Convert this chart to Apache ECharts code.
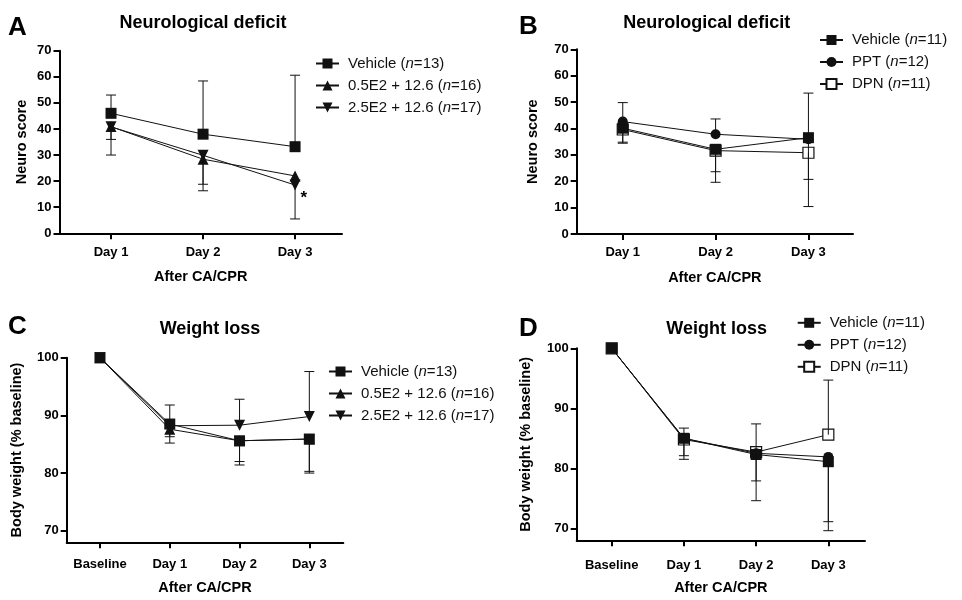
<!DOCTYPE html>
<html>
<head>
<meta charset="utf-8">
<script src="https://cdn.jsdelivr.net/npm/echarts@6/dist/echarts.min.js"></script>
<style>
html, body { margin: 0; background: #fff; }
#chart { width: 962px; height: 600px; }
</style>
</head>
<body>
<div id="chart"></div>
<script>
// categories / ticks
const neuroDays = ['Day 1', 'Day 2', 'Day 3'];
const weightDays = ['Baseline', 'Day 1', 'Day 2', 'Day 3'];
const weightTicks = [70, 80, 90, 100];

// A - neuro score, E2 + 12.6
const aVehicle = [46, 38, 33.2];
const aVehicleUp = [53, 58.4, 60.6];
const aLow = [40.9, 28.4, 22];
const aLowDown = [36, 18.8, null];
const aHigh = [40.8, 29.9, 18.5];
const aHighDown = [30, 16.3, 5.5];

// B - neuro score, PPT / DPN
const bVehicle = [40.1, 32.1, 36.5];
const bVehicleUp = [null, null, 53.4];
const bVehicleDown = [34.4, 23.6, null];
const bPPT = [42.6, 37.8, 35.9];
const bPPTUp = [49.8, 43.6, null];
const bPPTDown = [null, null, 20.7];
const bDPN = [39.6, 31.6, 30.8];
const bDPNDown = [34.8, 19.6, 10.4];

// C - body weight, E2 + 12.6
const cVehicle = [100, 88.5, 85.6, 85.9];
const cVehicleUp = [null, 91.8, null, null];
const cVehicleDown = [null, null, 82.0, 80.3];
const cLow = [100, 87.6, 85.6, 85.9];
const cLowDown = [null, 85.2, 81.4, 80.0];
const cHigh = [100, 88.2, 88.3, 89.8];
const cHighUp = [null, null, 92.8, 97.6];
const cHighDown = [null, 86.3, null, null];

// D - body weight, PPT / DPN
const dVehicle = [100, 85, 82.3, 81.1];
const dVehicleUp = [null, 86.7, null, null];
const dVehicleDown = [null, null, 77.9, 69.6];
const dPPT = [100, 85, 82.5, 81.9];
const dPPTDown = [null, 82.1, 74.6, 71.1];
const dDPN = [100, 84.8, 82.7, 85.6];
const dDPNUp = [null, null, 87.4, 94.7];
const dDPNDown = [null, 81.5, null, null];

const FONT = '"Liberation Sans", Arial, Helvetica, sans-serif';
const INK = '#111';

const grids = [
    {left: 59.5, top: 50.7, width: 282.5, height: 182.6},
    {left: 576.7, top: 49.3, width: 276.3, height: 184.7},
    {left: 66.7, top: 357.7, width: 276.6, height: 184.6},
    {left: 576.7, top: 348.3, width: 288.3, height: 192}
];

// x = index + start (A/B start at Day 1 = 1, C/D at Baseline = 0)
const panels = [
    {labels: neuroDays, start: 1, xMin: 0.44, xMax: 3.51, labelMargin: 13, nameGap: 36,
        yName: 'Neuro score', yGap: 30, yMin: 0, yMax: 70, yInterval: 10},
    {labels: neuroDays, start: 1, xMin: 0.504, xMax: 3.48, labelMargin: 12, nameGap: 36,
        yName: 'Neuro score', yGap: 36, yMin: 0, yMax: 70, yInterval: 10},
    {labels: weightDays, start: 0, xMin: -0.477, xMax: 3.487, labelMargin: 16, nameGap: 38,
        yName: 'Body weight (% baseline)', yGap: 42, yMin: 68, yMax: 100, yTicks: weightTicks},
    {labels: weightDays, start: 0, xMin: -0.485, xMax: 3.508, labelMargin: 19, nameGap: 40,
        yName: 'Body weight (% baseline)', yGap: 43, yMin: 68, yMax: 100, yTicks: weightTicks}
];

const groups = [
    {grid: 0, name: 'Vehicle (n=13)', symbol: 'rect', values: aVehicle, up: aVehicleUp, z: 5},
    {grid: 0, name: '0.5E2 + 12.6 (n=16)', symbol: 'triangle', values: aLow, down: aLowDown, z: 4},
    {grid: 0, name: '2.5E2 + 12.6 (n=17)', symbol: 'triangle', rotate: 180, values: aHigh, down: aHighDown, z: 4, sig: 2},
    {grid: 1, name: 'Vehicle (n=11)', symbol: 'rect', values: bVehicle, up: bVehicleUp, down: bVehicleDown, z: 5},
    {grid: 1, name: 'PPT (n=12)', symbol: 'circle', values: bPPT, up: bPPTUp, down: bPPTDown, z: 4},
    {grid: 1, name: 'DPN (n=11)', symbol: 'rect', open: true, values: bDPN, down: bDPNDown, z: 3},
    {grid: 2, name: 'Vehicle (n=13)', symbol: 'rect', values: cVehicle, up: cVehicleUp, down: cVehicleDown, z: 5},
    {grid: 2, name: '0.5E2 + 12.6 (n=16)', symbol: 'triangle', values: cLow, down: cLowDown, z: 4},
    {grid: 2, name: '2.5E2 + 12.6 (n=17)', symbol: 'triangle', rotate: 180, values: cHigh, up: cHighUp, down: cHighDown, z: 4},
    {grid: 3, name: 'Vehicle (n=11)', symbol: 'rect', values: dVehicle, up: dVehicleUp, down: dVehicleDown, z: 5},
    {grid: 3, name: 'PPT (n=12)', symbol: 'circle', values: dPPT, down: dPPTDown, z: 4},
    {grid: 3, name: 'DPN (n=11)', symbol: 'rect', open: true, values: dDPN, up: dDPNUp, down: dDPNDown, z: 3}
];

const axisText = {color: '#000', fontWeight: 'bold', fontFamily: FONT};

const xAxes = panels.map((p, i) => {
    const ticks = p.labels.map((_, k) => k + p.start);
    return {
        gridIndex: i,
        type: 'value',
        min: p.xMin,
        max: p.xMax,
        splitLine: {show: false},
        axisLine: {show: true, onZero: false, lineStyle: {color: '#000', width: 2}},
        axisTick: {show: true, length: 6, customValues: ticks, lineStyle: {color: '#000', width: 2}},
        axisLabel: {customValues: ticks, margin: p.labelMargin, fontSize: 13, ...axisText,
            formatter: v => p.labels[Math.round(v) - p.start]},
        name: 'After CA/CPR',
        nameLocation: 'middle',
        nameGap: p.nameGap,
        nameTextStyle: {fontSize: 14.5, ...axisText}
    };
});

const yAxes = panels.map((p, i) => {
    const ax = {
        gridIndex: i,
        type: 'value',
        min: p.yMin,
        max: p.yMax,
        splitLine: {show: false},
        axisLine: {show: true, onZero: false, lineStyle: {color: '#000', width: 2}},
        axisTick: {show: true, length: 6, lineStyle: {color: '#000', width: 2}},
        axisLabel: {margin: 8, fontSize: 13, ...axisText},
        name: p.yName,
        nameLocation: 'middle',
        nameGap: p.yGap,
        nameTextStyle: {fontSize: 14.5, ...axisText}
    };
    if (p.yTicks) {
        ax.axisTick.customValues = p.yTicks;
        ax.axisLabel.customValues = p.yTicks;
    } else {
        ax.interval = p.yInterval;
    }
    return ax;
});

const lineSeries = groups.map(g => {
    const start = panels[g.grid].start;
    const data = g.values.map((v, k) => {
        const item = {value: [k + start, v]};
        if (g.sig === k) {
            item.label = {show: true, formatter: '*', position: 'right', distance: 0, offset: [0, 13],
                fontSize: 17, fontWeight: 'bold', color: '#000', fontFamily: FONT};
        }
        return item;
    });
    return {
        type: 'line',
        name: g.name,
        xAxisIndex: g.grid,
        yAxisIndex: g.grid,
        data: data,
        symbol: g.symbol,
        symbolRotate: g.rotate || 0,
        symbolSize: g.symbol === 'circle' ? 10 : 11,
        showAllSymbol: true,
        z: g.z,
        lineStyle: {color: INK, width: 1},
        itemStyle: g.open
            ? {color: '#fff', borderColor: INK, borderWidth: 1.2}
            : {color: INK, borderWidth: 0},
        emphasis: {disabled: true},
        animation: false
    };
});

function renderErr(params, api) {
    const a = api.coord([api.value(0), api.value(1)]);
    const b = api.coord([api.value(0), api.value(2)]);
    const style = {stroke: INK, lineWidth: 1};
    return {
        type: 'group',
        children: [
            {type: 'line', shape: {x1: a[0], y1: a[1], x2: b[0], y2: b[1]}, style: style},
            {type: 'line', shape: {x1: b[0] - 5, y1: b[1], x2: b[0] + 5, y2: b[1]}, style: style}
        ]
    };
}

const errSeries = panels.map((p, i) => {
    const data = [];
    groups.filter(g => g.grid === i).forEach(g => {
        [g.up, g.down].forEach(ends => {
            if (!ends) return;
            ends.forEach((e, k) => {
                if (e != null) data.push([k + p.start, g.values[k], e]);
            });
        });
    });
    return {
        type: 'custom',
        xAxisIndex: i,
        yAxisIndex: i,
        encode: {x: 0, y: [1, 2]},
        renderItem: renderErr,
        data: data,
        z: 6,
        silent: true,
        animation: false
    };
});

const legendText = {
    fontSize: 15,
    color: INK,
    fontFamily: FONT,
    padding: [0, 0, 0, 4],
    rich: {it: {fontSize: 15, fontStyle: 'italic', color: INK, fontFamily: FONT}}
};

function legend(left, top, names) {
    return {
        left: left,
        top: top,
        orient: 'vertical',
        itemWidth: 23,
        itemHeight: 12.5,
        itemGap: 7,
        selectedMode: false,
        data: names,
        textStyle: legendText,
        formatter: n => n.replace('(n=', '({it|n}=')
    };
}

const e2Names = ['Vehicle (n=13)', '0.5E2 + 12.6 (n=16)', '2.5E2 + 12.6 (n=17)'];
const erNames = ['Vehicle (n=11)', 'PPT (n=12)', 'DPN (n=11)'];

function label(x, y, text, size) {
    return {
        type: 'text', x: x, y: y, silent: true,
        style: {text: text, fontSize: size, fontWeight: 'bold', fontFamily: FONT, fill: '#000',
            align: size > 20 ? 'left' : 'center', verticalAlign: 'middle'}
    };
}

const chart = echarts.init(document.getElementById('chart'));
chart.setOption({
    backgroundColor: '#fff',
    animation: false,
    grid: grids,
    xAxis: xAxes,
    yAxis: yAxes,
    legend: [
        legend(310, 51, e2Names),
        legend(814, 27.5, erNames),
        legend(323, 359, e2Names),
        legend(791.7, 310.3, erNames)
    ],
    graphic: [
        label(8, 28, 'A', 26),
        label(519, 27, 'B', 26),
        label(8, 326.5, 'C', 26),
        label(519, 329, 'D', 26),
        label(203, 23.5, 'Neurological deficit', 18),
        label(706.7, 23, 'Neurological deficit', 18),
        label(210, 329.5, 'Weight loss', 18),
        label(716.7, 329.5, 'Weight loss', 18)
    ],
    series: lineSeries.concat(errSeries)
});
</script>
</body>
</html>
